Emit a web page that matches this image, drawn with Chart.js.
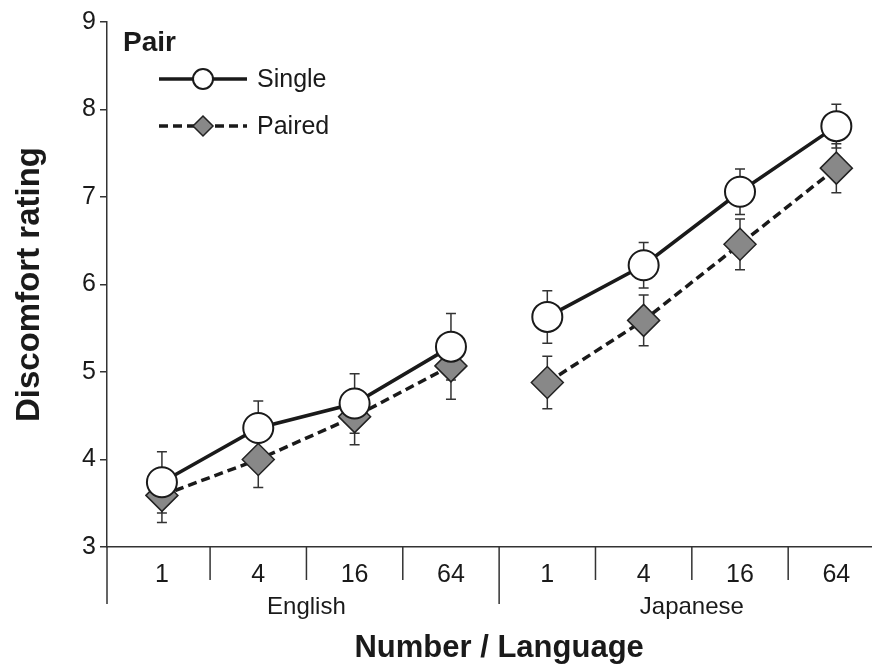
<!DOCTYPE html>
<html>
<head>
<meta charset="utf-8">
<script src="https://cdn.jsdelivr.net/npm/chart.js@4/dist/chart.umd.min.js"></script>
<style>
  html, body { margin: 0; padding: 0; background: #fff; }
  #chart { display: block; }
</style>
</head>
<body>
<canvas id="chart" width="872" height="666"></canvas>
<script>
// data
var numbers = ["1", "4", "16", "64", "1", "4", "16", "64"];
var languages = ["English", "Japanese"];
var singleMeans = [3.74, 4.36, 4.64, 5.29, 5.63, 6.22, 7.06, 7.81];
var singleErr = [0.35, 0.31, 0.34, 0.38, 0.30, 0.26, 0.26, 0.25];
var pairedMeans = [3.59, 4.00, 4.49, 5.07, 4.88, 5.59, 6.46, 7.33];
var pairedErr = [0.31, 0.32, 0.32, 0.38, 0.30, 0.29, 0.29, 0.28];
var yTicks = [3, 4, 5, 6, 7, 8, 9];

var FONT = "'Liberation Sans', Arial, Helvetica, sans-serif";
var INK = "#1a1a1a";

function toPoints(vals) {
  return vals.map(function (v, i) { return { x: i, y: v }; });
}

// no line between the last English point and the first Japanese point
function breakAtLanguage(color) {
  return function (ctx) {
    return ctx.p0DataIndex === 3 ? "rgba(0,0,0,0)" : color;
  };
}

// error bars, drawn under the markers
var errorBars = {
  id: "errorBars",
  beforeDatasetsDraw: function (chart) {
    var ctx = chart.ctx;
    var ys = chart.scales.y;
    ctx.save();
    ctx.strokeStyle = "#333";
    ctx.lineWidth = 1.5;
    chart.data.datasets.forEach(function (ds, di) {
      var meta = chart.getDatasetMeta(di);
      ds.errors.forEach(function (e, i) {
        var pt = meta.data[i];
        var v = ds.data[i].y;
        var top = ys.getPixelForValue(v + e);
        var bot = ys.getPixelForValue(v - e);
        ctx.beginPath();
        ctx.moveTo(pt.x, top); ctx.lineTo(pt.x, bot);
        ctx.moveTo(pt.x - 5, top); ctx.lineTo(pt.x + 5, top);
        ctx.moveTo(pt.x - 5, bot); ctx.lineTo(pt.x + 5, bot);
        ctx.stroke();
      });
    });
    ctx.restore();
  }
};

// category dividers, group labels, x title and the legend box
var decorations = {
  id: "decorations",
  afterDraw: function (chart) {
    var ctx = chart.ctx;
    var xs = chart.scales.x;
    var base = xs.top;
    ctx.save();
    ctx.strokeStyle = "#333";
    ctx.lineWidth = 1.5;
    ctx.beginPath();
    ctx.moveTo(chart.chartArea.left, base);
    ctx.lineTo(chart.chartArea.left, base + 57);
    for (var i = 0; i < numbers.length - 1; i++) {
      var px = xs.getPixelForValue(i + 0.5);
      ctx.moveTo(px, base);
      ctx.lineTo(px, base + (i === 3 ? 57 : 33));
    }
    ctx.stroke();

    ctx.fillStyle = INK;
    ctx.textAlign = "center";
    ctx.textBaseline = "middle";
    ctx.font = "24px " + FONT;
    ctx.fillText(languages[0], xs.getPixelForValue(1.5), base + 60);
    ctx.fillText(languages[1], xs.getPixelForValue(5.5), base + 60);
    ctx.font = "bold 31px " + FONT;
    ctx.fillText("Number / Language", xs.getPixelForValue(3.5), base + 101);

    // legend
    ctx.textAlign = "left";
    ctx.font = "bold 28px " + FONT;
    ctx.fillText("Pair", 123, 43);
    ctx.font = "25px " + FONT;
    var rows = [
      { y: 79, ds: chart.data.datasets[0] },
      { y: 126, ds: chart.data.datasets[1] }
    ];
    rows.forEach(function (r) {
      ctx.strokeStyle = r.ds.borderColor;
      ctx.lineWidth = r.ds.borderWidth;
      ctx.setLineDash(r.ds.borderDash || []);
      ctx.beginPath();
      ctx.moveTo(159, r.y); ctx.lineTo(247, r.y);
      ctx.stroke();
      ctx.setLineDash([]);
      ctx.fillStyle = r.ds.pointBackgroundColor;
      ctx.strokeStyle = r.ds.pointBorderColor;
      ctx.lineWidth = r.ds.pointBorderWidth;
      ctx.beginPath();
      if (r.ds.pointStyle === "circle") {
        ctx.arc(203, r.y, 10, 0, Math.PI * 2);
      } else {
        ctx.moveTo(203, r.y - 10); ctx.lineTo(213, r.y);
        ctx.lineTo(203, r.y + 10); ctx.lineTo(193, r.y);
        ctx.closePath();
      }
      ctx.fill();
      ctx.stroke();
      ctx.fillStyle = INK;
      ctx.fillText(r.ds.label, 257, r.y + 1);
    });
    ctx.restore();
  }
};

var ctx = document.getElementById("chart").getContext("2d");

var myChart = new Chart(ctx, {
  type: "line",
  data: {
    datasets: [
      {
        label: "Single",
        data: toPoints(singleMeans),
        errors: singleErr,
        borderColor: INK,
        borderWidth: 3.5,
        pointStyle: "circle",
        pointRadius: 15,
        pointBackgroundColor: "#ffffff",
        pointBorderColor: INK,
        pointBorderWidth: 2,
        segment: { borderColor: breakAtLanguage(INK) }
      },
      {
        label: "Paired",
        data: toPoints(pairedMeans),
        errors: pairedErr,
        borderColor: INK,
        borderWidth: 3.5,
        borderDash: [9, 5],
        pointStyle: "rectRot",
        pointRadius: 16,
        pointBackgroundColor: "#888888",
        pointBorderColor: "#222222",
        pointBorderWidth: 1.5,
        segment: { borderColor: breakAtLanguage(INK) }
      }
    ]
  },
  options: {
    responsive: false,
    animation: false,
    layout: { autoPadding: false, padding: { top: 22, left: 0, right: 0, bottom: 0 } },
    plugins: {
      legend: { display: false },
      tooltip: { enabled: false }
    },
    scales: {
      x: {
        type: "linear",
        min: -0.57,
        max: 7.37,
        afterBuildTicks: function (scale) {
          scale.ticks = numbers.map(function (n, i) { return { value: i }; });
        },
        afterFit: function (scale) {
          scale.height = 119;
          scale.paddingLeft = 0;
          scale.paddingRight = 0;
        },
        ticks: {
          autoSkip: false,
          maxRotation: 0,
          color: INK,
          padding: 5,
          font: { family: FONT, size: 25 },
          callback: function (v) { return numbers[v]; }
        },
        grid: { display: false },
        border: { display: true, color: "#333", width: 1.5 }
      },
      y: {
        min: 3,
        max: 9,
        afterBuildTicks: function (scale) {
          scale.ticks = yTicks.map(function (t) { return { value: t }; });
        },
        afterFit: function (scale) { scale.width = 107; },
        ticks: {
          color: INK,
          padding: 4,
          font: { family: FONT, size: 25 }
        },
        grid: {
          drawOnChartArea: false,
          drawTicks: true,
          tickLength: 7,
          color: "#333",
          lineWidth: 1.5
        },
        border: { display: true, color: "#333", width: 1.5 },
        title: {
          display: true,
          text: "Discomfort rating",
          color: INK,
          padding: { top: 10, bottom: 0 },
          font: { family: FONT, size: 33, weight: "bold" }
        }
      }
    }
  },
  plugins: [errorBars, decorations]
});
</script>
</body>
</html>
